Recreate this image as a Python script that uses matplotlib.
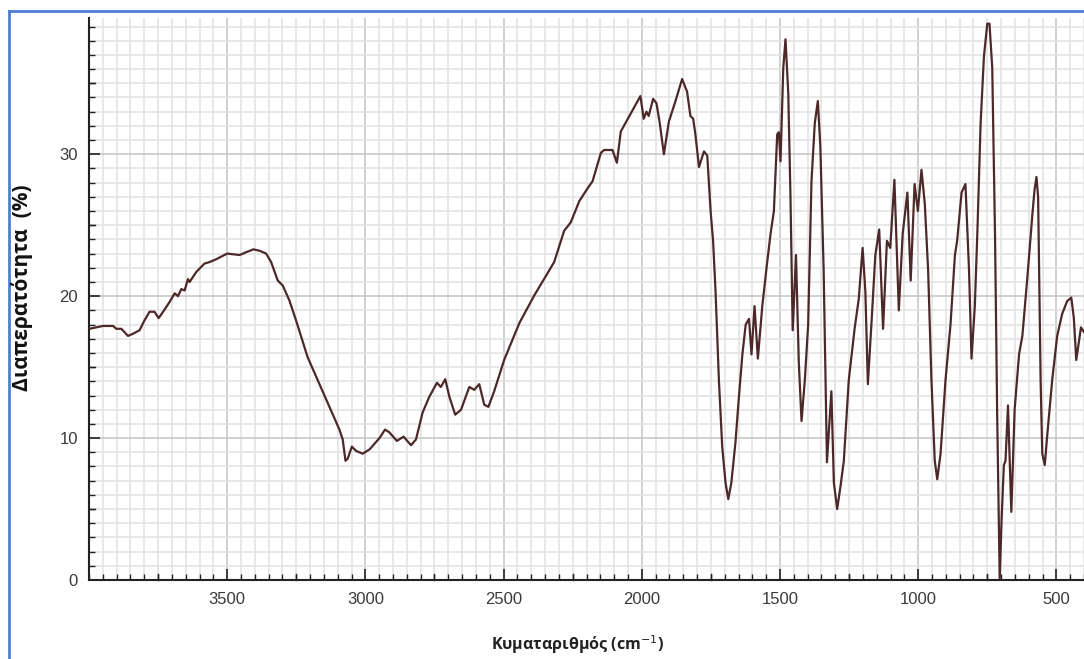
import numpy as np
import matplotlib
matplotlib.use("Agg")
import matplotlib.pyplot as plt
from matplotlib.ticker import MultipleLocator
from matplotlib.lines import Line2D

wavenumber = [3998, 3950, 3913, 3901, 3883, 3859, 3841, 3817, 3799, 3781, 3763, 3748, 3732, 3708,
              3690, 3678, 3666, 3654, 3642, 3636, 3612, 3582, 3564, 3540, 3500, 3455, 3431, 3405,
              3383, 3359, 3341, 3317, 3299, 3275, 3251, 3209, 3166, 3130, 3094, 3082, 3072, 3064,
              3049, 3034, 3010, 2985, 2949, 2929, 2913, 2886, 2862, 2835, 2817, 2793, 2769, 2741,
              2727, 2711, 2696, 2675, 2654, 2624, 2606, 2588, 2570, 2555, 2534, 2498, 2443, 2389,
              2317, 2281, 2257, 2226, 2196, 2178, 2148, 2136, 2106, 2090, 2076, 2005, 1993, 1983,
              1975, 1959, 1947, 1935, 1920, 1902, 1878, 1854, 1836, 1824, 1814, 1806, 1793, 1775,
              1763, 1751, 1742, 1733, 1721, 1709, 1697, 1687, 1676, 1661, 1649, 1636, 1624, 1612,
              1603, 1592, 1580, 1564, 1548, 1534, 1522, 1510, 1504, 1498, 1488, 1480, 1470, 1462,
              1454, 1442, 1432, 1422, 1410, 1398, 1386, 1374, 1363, 1354, 1342, 1330, 1314, 1305,
              1293, 1281, 1269, 1251, 1230, 1215, 1201, 1191, 1182, 1167, 1155, 1141, 1127, 1113,
              1101, 1086, 1070, 1056, 1039, 1027, 1013, 1001, 988, 976, 964, 952, 940, 931, 919,
              901, 883, 867, 859, 843, 829, 816, 807, 795, 786, 774, 762, 750, 742, 732, 722, 714,
              705, 698, 690, 684, 675, 663, 651, 635, 623, 605, 587, 579, 572, 566, 557, 551, 542,
              533, 515, 497, 479, 461, 446, 437, 428, 419, 411, 401]
transmittance = [17.7, 17.9, 17.9, 17.7, 17.7, 17.2, 17.35, 17.6, 18.3, 18.9, 18.9, 18.45, 18.9, 19.6,
                 20.2, 20.0, 20.5, 20.4, 21.2, 21.0, 21.7, 22.3, 22.4, 22.6, 23.0, 22.9, 23.1, 23.3,
                 23.2, 23.0, 22.4, 21.1, 20.75, 19.7, 18.3, 15.7, 13.8, 12.2, 10.6, 9.9, 8.4, 8.55,
                 9.4, 9.1, 8.9, 9.2, 10.0, 10.6, 10.4, 9.8, 10.1, 9.5, 9.9, 11.8, 12.9, 13.9,
                 13.6, 14.15, 12.9, 11.65, 12.0, 13.6, 13.4, 13.8, 12.35, 12.2, 13.3, 15.5, 18.1, 20.05,
                 22.4, 24.6, 25.2, 26.7, 27.6, 28.1, 30.1, 30.3, 30.3, 29.4, 31.6, 34.1, 32.5, 33.0,
                 32.7, 33.9, 33.6, 32.2, 30.0, 32.3, 33.75, 35.3, 34.4, 32.7, 32.5, 31.4, 29.1, 30.2,
                 29.9, 26.0, 23.9, 20.3, 14.1, 9.4, 6.85, 5.7, 6.85, 9.7, 12.8, 15.9, 18.0, 18.4,
                 15.9, 19.3, 15.6, 19.3, 22.1, 24.4, 26.0, 31.4, 31.55, 29.5, 36.1, 38.1, 34.3, 27.0,
                 17.6, 22.9, 15.4, 11.2, 14.1, 18.0, 28.1, 32.2, 33.75, 30.6, 21.85, 8.3, 13.3, 6.85,
                 5.0, 6.6, 8.4, 14.1, 17.7, 19.8, 23.4, 20.3, 13.8, 18.75, 22.9, 24.7, 17.7, 23.9,
                 23.4, 28.2, 19.0, 24.4, 27.3, 21.1, 27.9, 26.0, 28.9, 26.5, 21.85, 14.1, 8.4, 7.1, 8.9,
                 14.1, 18.0, 22.9, 23.9, 27.3, 27.9, 21.85, 15.6, 19.3, 24.4, 32.2, 36.9, 39.2, 39.2, 36.1, 24.4, 11.5,
                 0.1, 4.3, 8.1, 8.4, 12.3, 4.8, 12.0, 15.9, 17.2, 21.3, 25.7, 27.5, 28.4, 27.0, 14.1, 8.9, 8.1,
                 10.2, 14.1, 17.2, 18.75, 19.65, 19.9, 18.5, 15.5, 16.7, 17.8, 17.5]

x_major_ticks = [3500, 3000, 2500, 2000, 1500, 1000, 500]
y_major_ticks = [0, 10, 20, 30]

fig = plt.figure(figsize=(10.84, 6.59), dpi=100)
ax = fig.add_axes([89/1084, 1-580/659, 1-89/1084, (580-18)/659])

ax.plot(wavenumber, transmittance, color='#4d2828', lw=1.6, zorder=3, solid_joinstyle='round')

ax.set_xlim(4000, 400)
ax.set_ylim(0, 39.6)

ax.set_xticks(x_major_ticks)
ax.set_yticks(y_major_ticks)
ax.xaxis.set_minor_locator(MultipleLocator(50))
ax.yaxis.set_minor_locator(MultipleLocator(1))

ax.grid(which='minor', color='#e2e2e2', lw=1.1, zorder=0)
ax.grid(which='major', color='#c4c4c4', lw=1.1, zorder=0)
ax.set_axisbelow(True)

for s in ['top', 'right']:
    ax.spines[s].set_visible(False)
for s in ['left', 'bottom']:
    ax.spines[s].set_color('#222222')
    ax.spines[s].set_linewidth(1.5)

ax.tick_params(which='major', direction='in', length=8, width=1.2, color='#222222',
               labelsize=12, labelcolor='#3a3a3a')
for lab in ax.get_xticklabels() + ax.get_yticklabels():
    lab.set_family(['Liberation Sans', 'DejaVu Sans'])
ax.tick_params(axis='x', which='major', pad=9)
ax.tick_params(axis='y', which='major', pad=8)
ax.tick_params(which='minor', direction='in', length=4, width=1.0, color='#222222')

# medium ticks every 250 / 5
for xv in np.arange(3750, 400, -500):
    ax.plot([xv, xv], [0, 0.4], color='#222222', lw=1.0, zorder=4, clip_on=False)
for yv in [5, 15, 25, 35]:
    ax.plot([4000, 3980], [yv, yv], color='#222222', lw=1.0, zorder=4, clip_on=False)

fam = ['Open Sans', 'DejaVu Sans']
fig.text(578/1084, 1-645/659, 'Κυματαριθμός (cm$^{-1}$)', ha='center', va='center',
         fontsize=11.5, fontweight='bold', family=fam, color='#222222')
fig.text(22/1084, 1-288/659, 'Διαπερατότητα  (%)', ha='center', va='center', rotation=90,
         fontsize=15, fontweight='bold', family=fam, color='#111111')

# blue screenshot frame
fig.add_artist(Line2D([9/1084, 9/1084], [0, 1-11/659], color='#4f7fd0', lw=2, transform=fig.transFigure))
fig.add_artist(Line2D([9/1084, 1], [1-11/659, 1-11/659], color='#4f7fd0', lw=2, transform=fig.transFigure))

fig.savefig('out.png', dpi=100)
